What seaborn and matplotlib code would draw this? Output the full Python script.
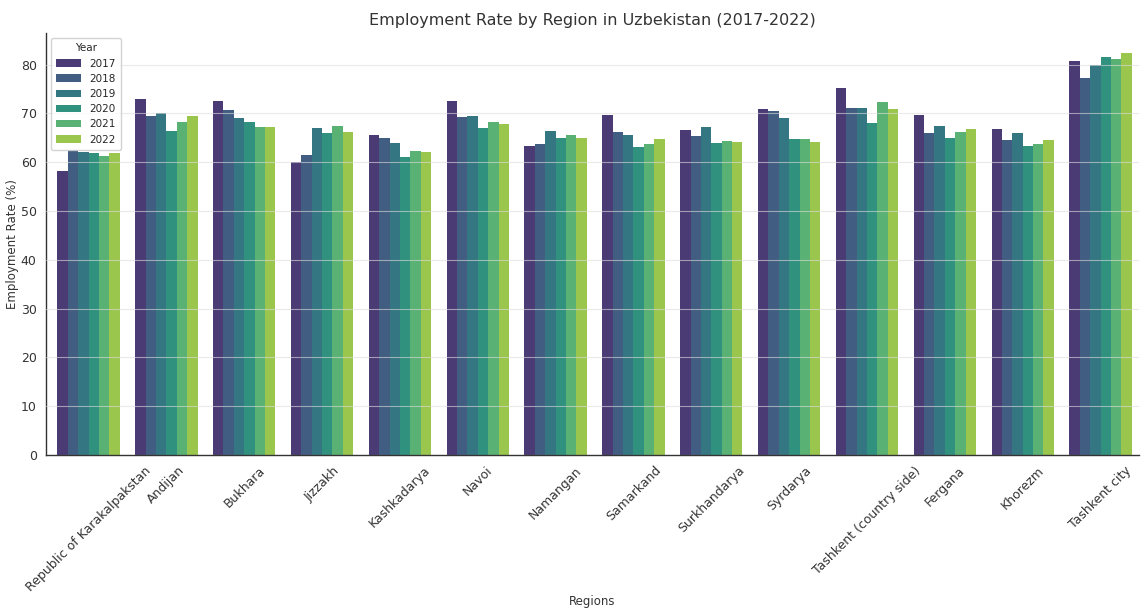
import matplotlib
matplotlib.use("Agg")
import matplotlib.pyplot as plt
import seaborn as sns
import pandas as pd

regions = ["Republic of Karakalpakstan", "Andijan", "Bukhara", "Jizzakh", "Kashkadarya",
           "Navoi", "Namangan", "Samarkand", "Surkhandarya", "Syrdarya",
           "Tashkent (country side)", "Fergana", "Khorezm", "Tashkent city"]
years = ["2017", "2018", "2019", "2020", "2021", "2022"]

rate_2017 = [58.3, 73.0, 72.5, 60.0, 65.5, 72.5, 63.4, 69.7, 66.7, 71.0, 75.2, 69.7, 66.8, 80.8]
rate_2018 = [62.5, 69.5, 70.8, 61.5, 65.0, 69.2, 63.7, 66.3, 65.4, 70.5, 71.2, 65.9, 64.5, 77.3]
rate_2019 = [62.0, 70.0, 69.0, 67.0, 64.0, 69.5, 66.5, 65.5, 67.2, 69.0, 71.2, 67.4, 65.9, 80.0]
rate_2020 = [61.8, 66.5, 68.3, 66.0, 61.0, 67.0, 65.0, 63.2, 64.0, 64.8, 68.0, 65.0, 63.4, 81.5]
rate_2021 = [61.3, 68.2, 67.2, 67.5, 62.3, 68.3, 65.6, 63.8, 64.4, 64.7, 72.3, 66.1, 63.8, 81.2]
rate_2022 = [61.8, 69.4, 67.2, 66.2, 62.0, 67.8, 64.9, 64.8, 64.2, 64.2, 70.9, 66.9, 64.6, 82.4]

series = [rate_2017, rate_2018, rate_2019, rate_2020, rate_2021, rate_2022]
rows = []
for y, vals in zip(years, series):
    for r, v in zip(regions, vals):
        rows.append({"Regions": r, "Year": y, "Employment Rate (%)": v})
df = pd.DataFrame(rows)

sns.set_style("white")
plt.rcParams["font.family"] = ["DejaVu Sans"]
fig = plt.figure(figsize=(11.44, 6.09), dpi=100)
ax = fig.add_axes([0.040, 0.253, 0.956, 0.693])
sns.barplot(data=df, x="Regions", y="Employment Rate (%)", hue="Year",
            palette="viridis", ax=ax, saturation=0.75, width=0.8, linewidth=0)
ax.set_xlim(-0.55, 13.5)
ax.set_title("Employment Rate by Region in Uzbekistan (2017-2022)", fontsize=11.5, color="#333333")
ax.set_xlabel("Regions", fontsize=8.5, color="#333333")
ax.xaxis.set_label_coords(0.5, -0.333)
ax.set_ylabel("Employment Rate (%)", fontsize=8.5, color="#333333", labelpad=1)
ax.set_yticks(range(0, 90, 10))
ax.tick_params(axis="both", labelsize=9, colors="#333333", length=3, width=0.8)
plt.setp(ax.get_xticklabels(), rotation=45, ha="center")
ax.yaxis.grid(True, color="#dddddd", linewidth=0.8, alpha=0.6)
ax.set_axisbelow(False)
for s in ["top", "right"]:
    ax.spines[s].set_visible(False)
for s in ["left", "bottom"]:
    ax.spines[s].set_color("#333333")
    ax.spines[s].set_linewidth(1.0)
leg = ax.legend(title="Year", loc="upper left", fontsize=7.5, title_fontsize=7.5,
                frameon=True, handlelength=2.4, borderpad=0.5, labelspacing=0.5)
leg.get_frame().set_alpha(0.85)
fig.savefig("out.png", dpi=100)
